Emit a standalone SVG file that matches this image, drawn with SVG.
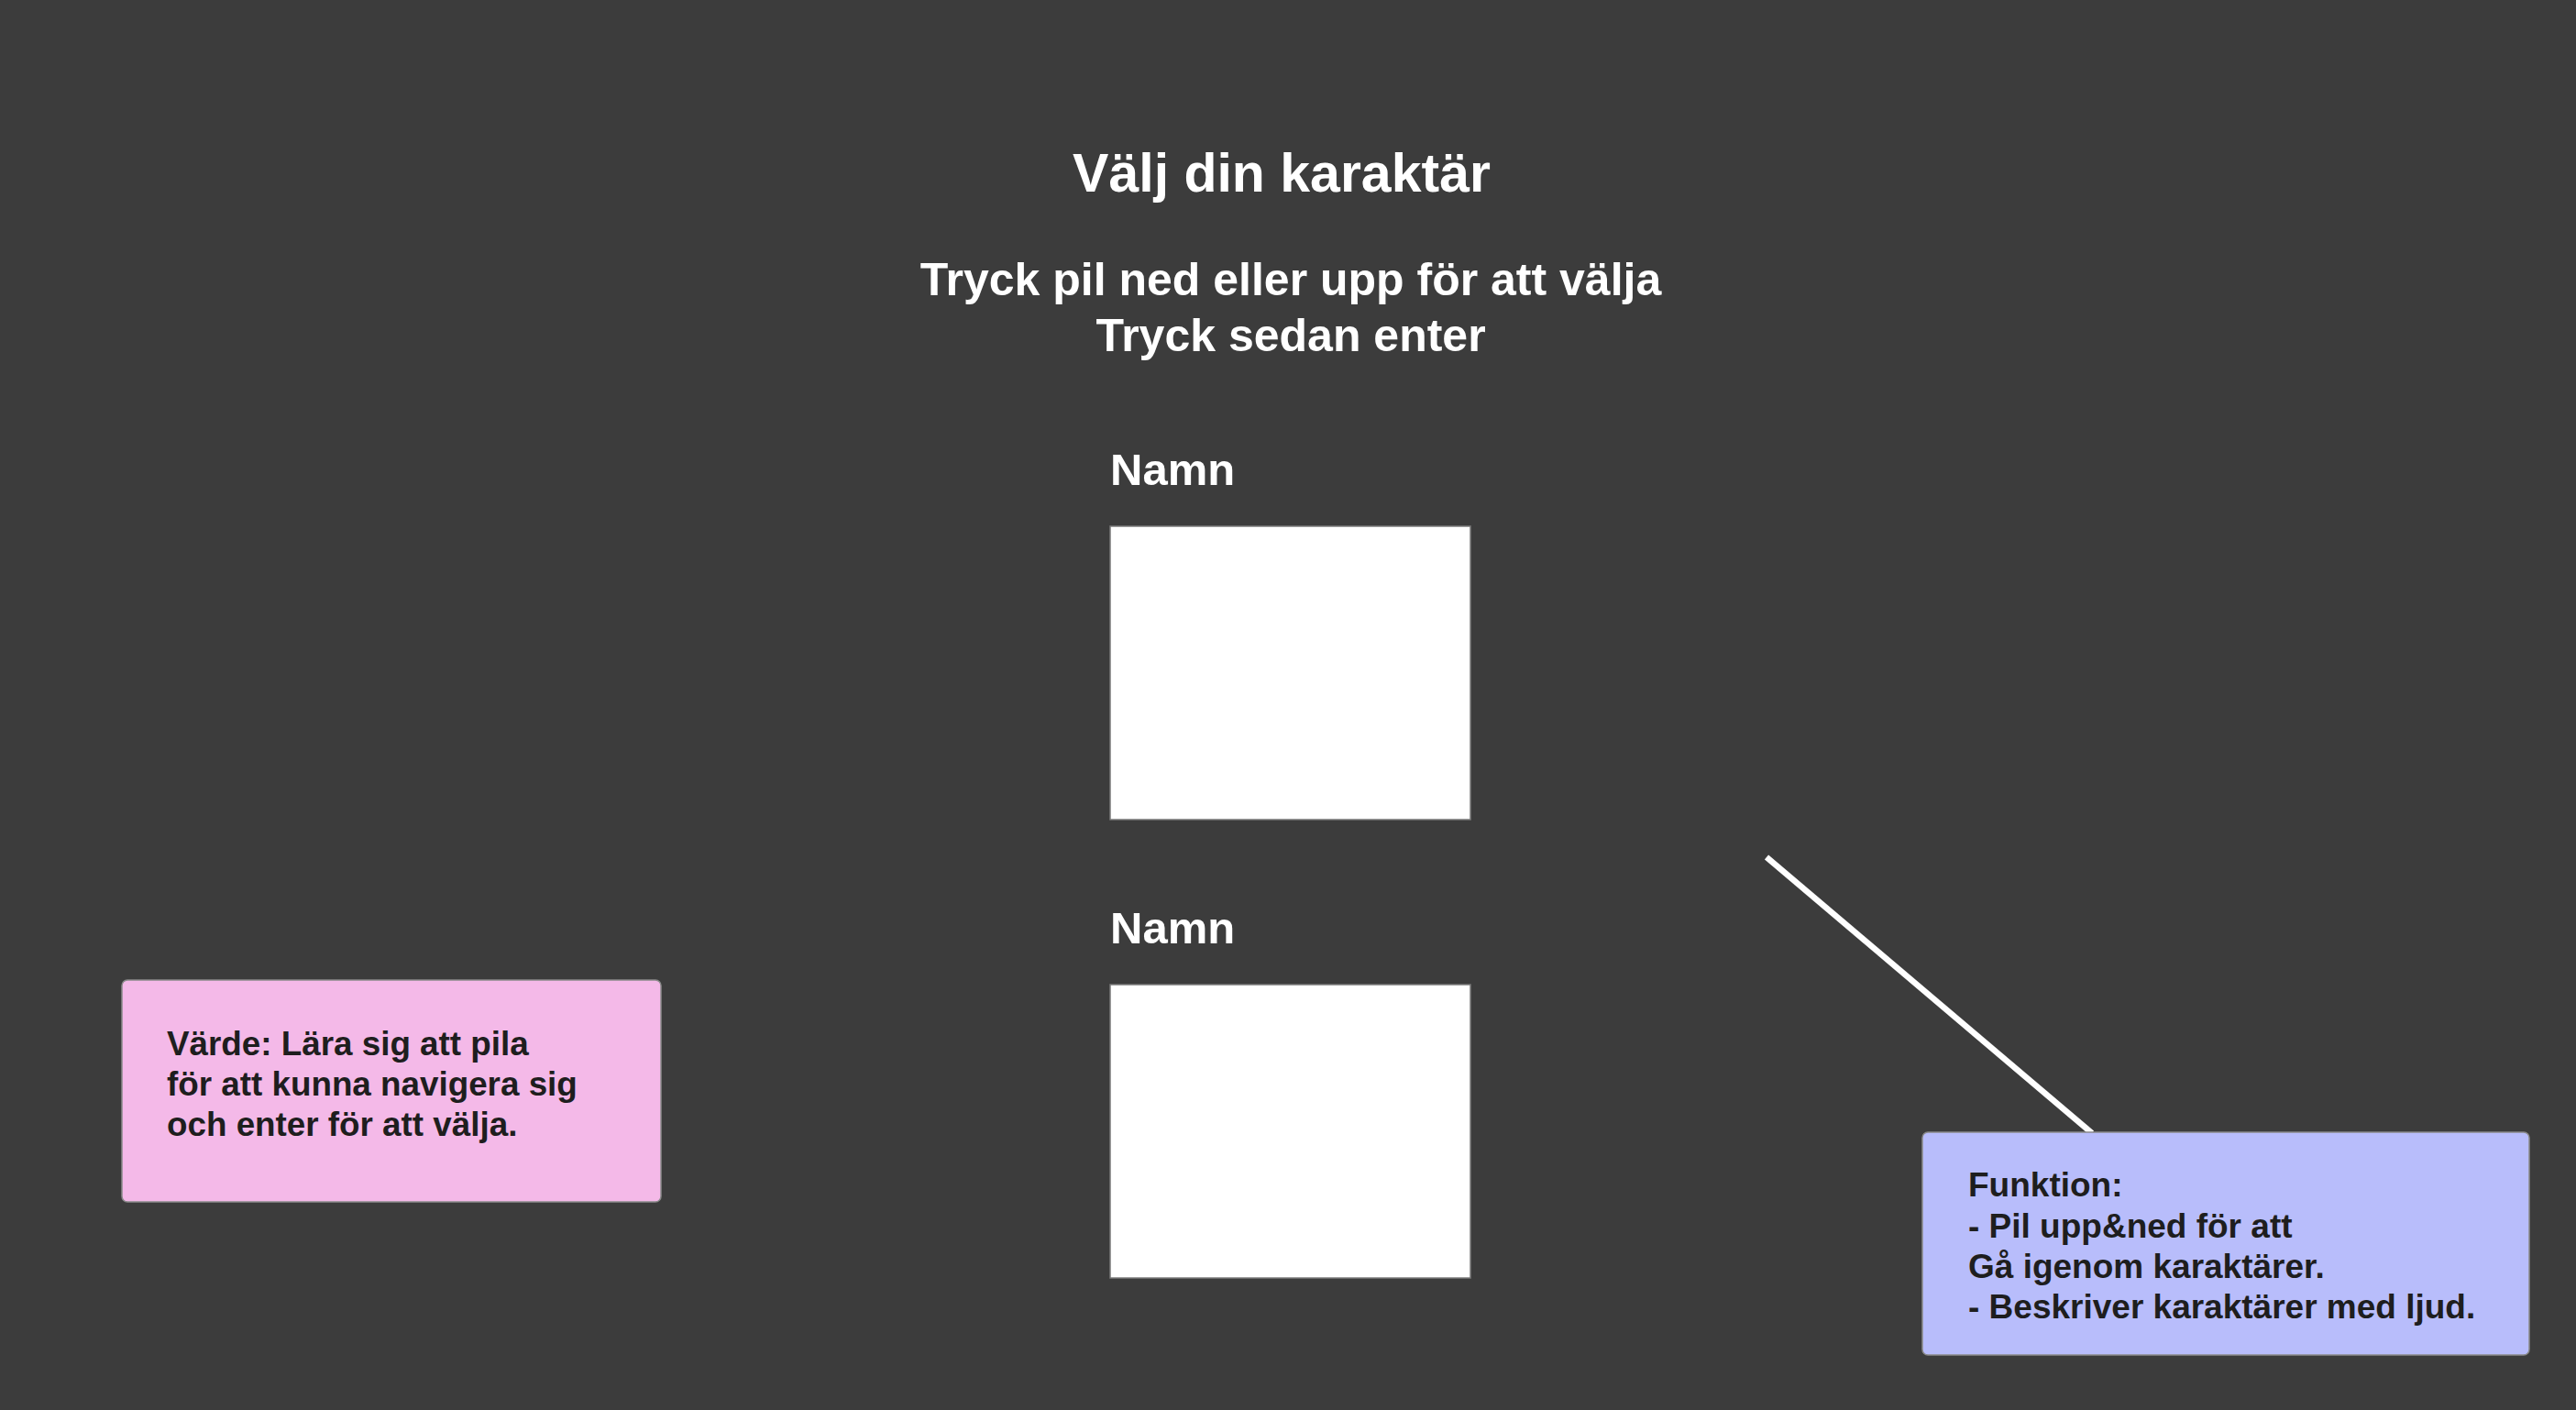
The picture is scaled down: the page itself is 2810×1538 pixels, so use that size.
<svg xmlns="http://www.w3.org/2000/svg" width="2810" height="1538" viewBox="0 0 2810 1538">
  <style>
    .t { font-family: "Liberation Sans", Arial, Helvetica, sans-serif; font-weight: bold; }
    .white { fill: #ffffff; }
    .dark { fill: #1e1e1e; }
    .card { fill: #ffffff; stroke: #7a7a7a; stroke-width: 1.5; }
    .note { stroke: #8a8a8a; stroke-width: 1.5; }
  </style>
  <rect x="0" y="0" width="2810" height="1538" fill="#3c3c3c"/>

  <g id="header">
    <text class="t white" x="1398" y="209" font-size="59" text-anchor="middle">Välj din karaktär</text>
    <text class="t white" x="1408" y="322" font-size="50" text-anchor="middle">Tryck pil ned eller upp för att välja</text>
    <text class="t white" x="1408" y="383" font-size="50" text-anchor="middle">Tryck sedan enter</text>
  </g>

  <g id="character1">
    <text class="t white" x="1211" y="529" font-size="49">Namn</text>
    <rect class="card" x="1211" y="574" width="393" height="320"/>
  </g>

  <g id="character2">
    <text class="t white" x="1211" y="1029" font-size="49">Namn</text>
    <rect class="card" x="1211" y="1074" width="393" height="320"/>
  </g>

  <g id="connectors">
    <line x1="1927" y1="935" x2="2282" y2="1236" stroke="#ffffff" stroke-width="6.5"/>
  </g>

  <g id="value-note">
    <rect class="note" x="133" y="1069" width="588" height="242" rx="6" fill="#f4b9e8"/>
    <text class="t dark" font-size="36.8">
      <tspan x="182" y="1151">Värde: Lära sig att pila</tspan>
      <tspan x="182" y="1195">för att kunna navigera sig</tspan>
      <tspan x="182" y="1239">och enter för att välja.</tspan>
    </text>
  </g>

  <g id="function-note">
    <rect class="note" x="2097" y="1235" width="662" height="243" rx="6" fill="#b8bdfb"/>
    <text class="t dark" font-size="37">
      <tspan x="2147" y="1305">Funktion:</tspan>
      <tspan x="2147" y="1350">- Pil upp&amp;ned för att</tspan>
      <tspan x="2147" y="1394">Gå igenom karaktärer.</tspan>
      <tspan x="2147" y="1438">- Beskriver karaktärer med ljud.</tspan>
    </text>
  </g>
</svg>
